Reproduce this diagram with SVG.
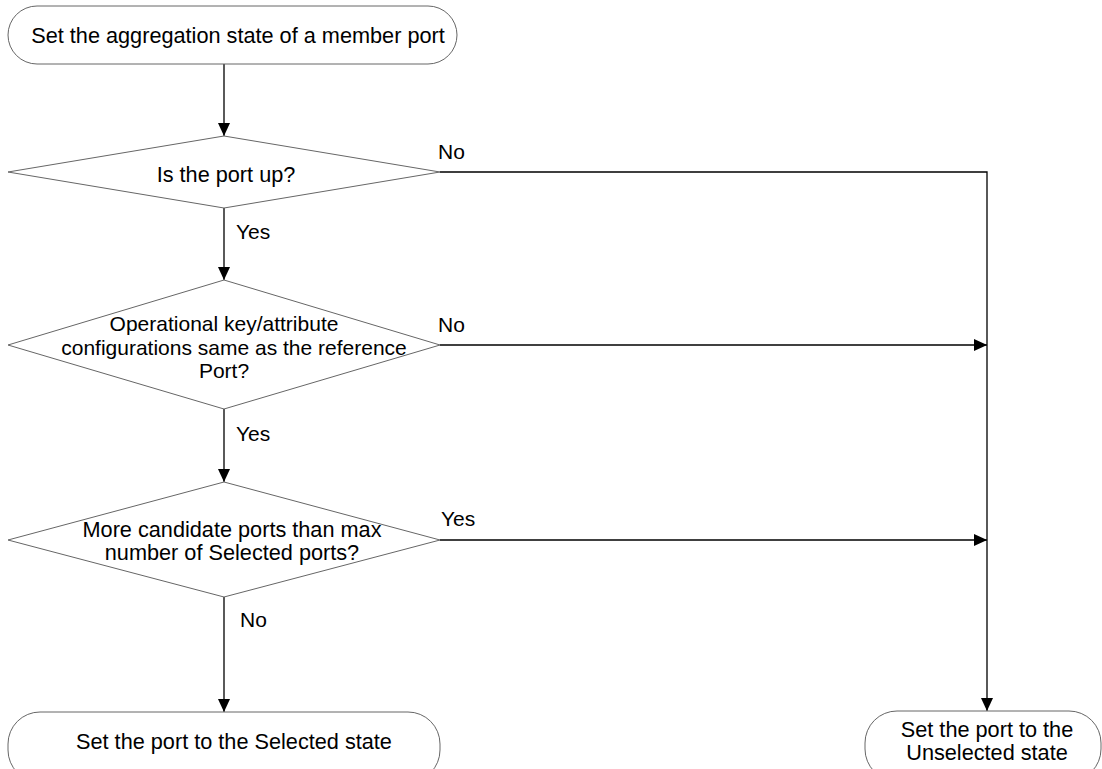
<svg xmlns="http://www.w3.org/2000/svg" width="1102" height="769" viewBox="0 0 1102 769">
<style>
.shape{fill:#fff;stroke:#666;stroke-width:1}
.t{font-family:"Liberation Sans",Arial,sans-serif;font-size:21.7px;fill:#000;text-anchor:middle}
.s{font-size:21px}
.l{font-family:"Liberation Sans",Arial,sans-serif;font-size:21px;fill:#000}
.c{fill:none;stroke:#000;stroke-width:1.3}
</style>
<defs>
<marker id="ah" markerWidth="12" markerHeight="12" refX="13" refY="6" orient="auto" markerUnits="userSpaceOnUse">
<path d="M0,0 L13,6 L0,12 Z" fill="#000"/>
</marker>
</defs>
<rect width="1102" height="769" fill="#fff"/>
<g id="connectors">
<path class="c" d="M224,64 V136" marker-end="url(#ah)"/>
<path class="c" d="M224,208 V280" marker-end="url(#ah)"/>
<path class="c" d="M224,409 V482" marker-end="url(#ah)"/>
<path class="c" d="M224,597 V712" marker-end="url(#ah)"/>
<path class="c" d="M440,172 H987 V711" marker-end="url(#ah)"/>
<path class="c" d="M440,345 H987" marker-end="url(#ah)"/>
<path class="c" d="M440,540 H987" marker-end="url(#ah)"/>
<text class="l" x="236" y="239">Yes</text>
<text class="l" x="236" y="441">Yes</text>
<text class="l" x="240" y="627">No</text>
<text class="l" x="438" y="159">No</text>
<text class="l" x="438" y="332">No</text>
<text class="l" x="441" y="526">Yes</text>
</g>
<g id="start">
<rect class="shape" x="8" y="6" width="449" height="58" rx="29" ry="29"/>
<text class="t" x="238" y="43">Set the aggregation state of a member port</text>
</g>
<g id="d1">
<polygon class="shape" points="224,136 440,172 224,208 8,172"/>
<text class="t" x="226" y="182">Is the port up?</text>
</g>
<g id="d2">
<polygon class="shape" points="224,280 440,345 224,409 8,345"/>
<text class="t s" x="224" y="331">Operational key/attribute</text>
<text class="t s" x="234" y="354.5">configurations same as the reference</text>
<text class="t s" x="224" y="378">Port?</text>
</g>
<g id="d3">
<polygon class="shape" points="224,482 440,540 224,597 8,540"/>
<text class="t" x="232" y="537">More candidate ports than max</text>
<text class="t" x="232" y="560">number of Selected ports?</text>
</g>
<g id="selected">
<rect class="shape" x="8" y="712" width="432" height="70" rx="32" ry="32"/>
<text class="t" x="234" y="749">Set the port to the Selected state</text>
</g>
<g id="unselected">
<rect class="shape" x="865" y="711" width="236" height="70" rx="32" ry="32"/>
<text class="t" x="987" y="737">Set the port to the</text>
<text class="t" x="987" y="760">Unselected state</text>
</g>
</svg>
